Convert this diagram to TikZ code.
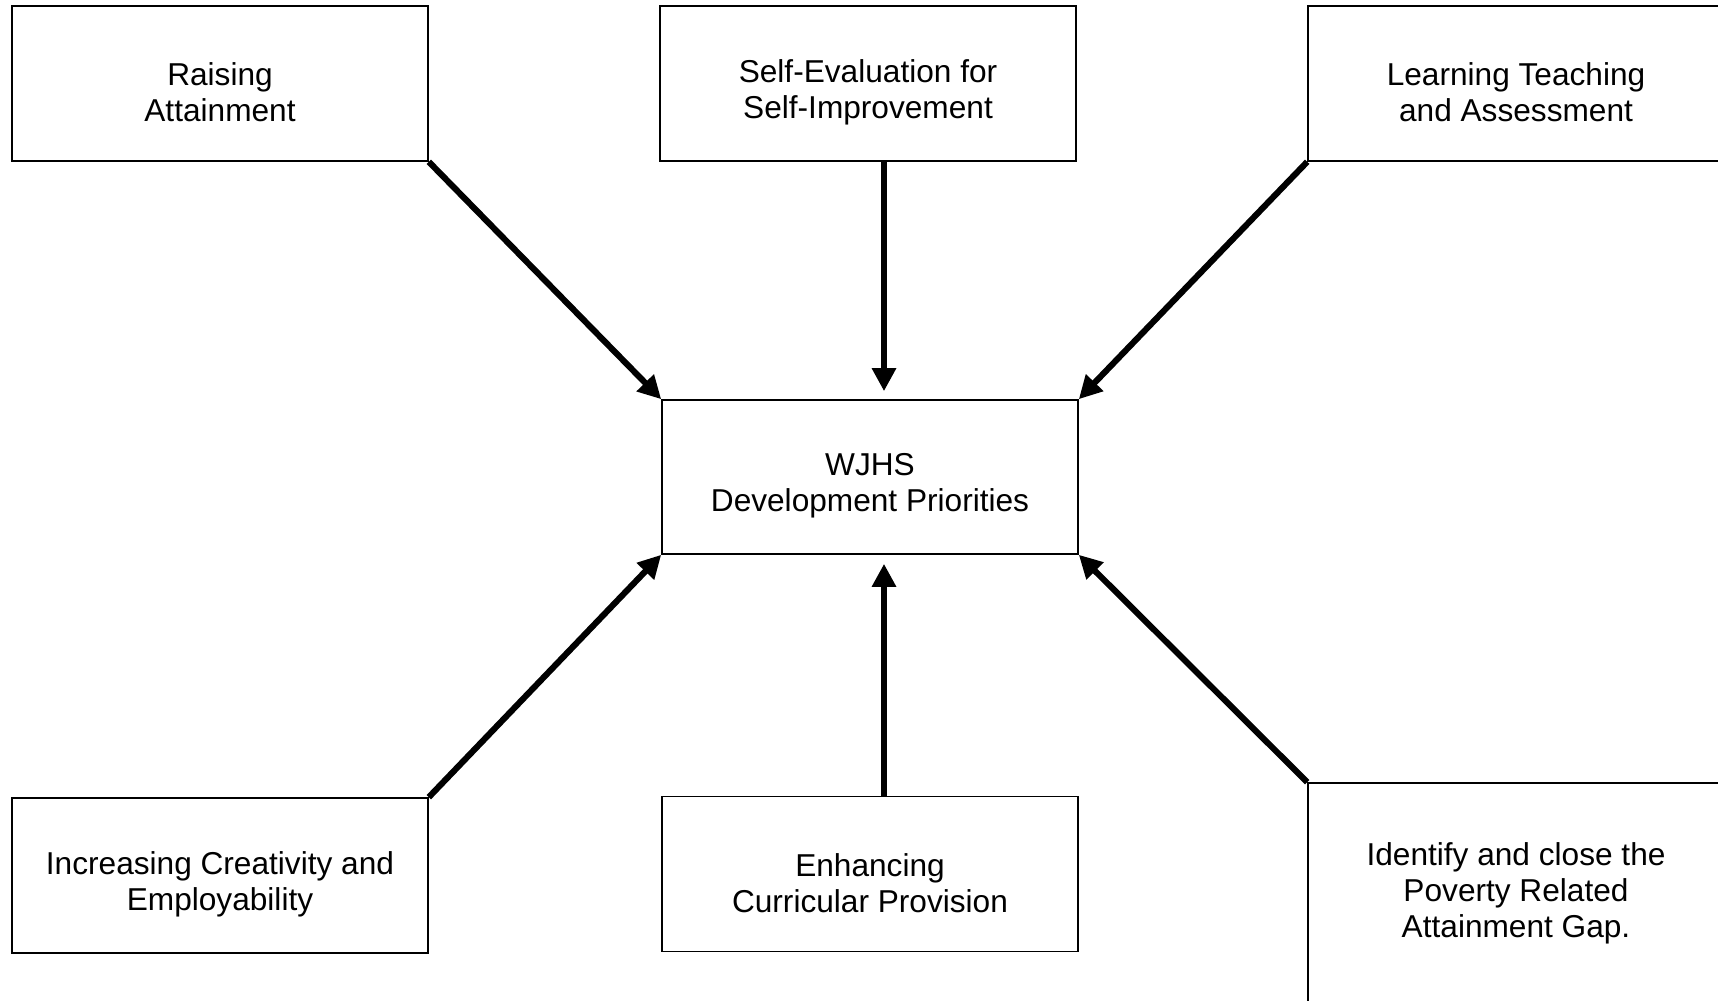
\documentclass[tikz,border=0pt]{standalone}
\usepackage{fontspec}
\setmainfont{Liberation Sans}
\usetikzlibrary{arrows.meta}
% pushes a two-line label a little below the box centre
\newcommand{\txtdrop}{\rule{0pt}{23pt}}

\begin{document}
\begin{tikzpicture}[
  box/.style={draw,line width=0.9pt,minimum width=8.32cm,minimum height=3.1cm,align=center,inner sep=0pt,font=\fontsize{18}{20.5}\selectfont},
  feed/.style={line width=3.5pt,-{Triangle[length=0.46cm,width=0.46cm]}}]
\clip (0,0) rectangle (34.36,20);
% outer priorities
\node[box] (raise) at (4.40,18.33){\txtdrop Raising\\Attainment};
\node[box] (selfev) at (17.36,18.33){\txtdrop Self-Evaluation for\\Self-Improvement};
\node[box] (learn) at (30.32,18.33){\txtdrop Learning Teaching\\and Assessment};
\node[box] (create) at (4.40,2.49){\txtdrop Increasing Creativity and\\Employability};
\node[box] (curric) at (17.40,2.52){\txtdrop Enhancing\\Curricular Provision};
\node[box,minimum height=4.4cm] (gap) at (30.32,2.14){Identify and close the\\Poverty Related\\Attainment Gap.};
% centre
\node[box,minimum height=3.08cm] (wjhs) at (17.40,10.46){\txtdrop WJHS\\Development Priorities};
% arrows into the centre
\draw[feed] (raise.south east) -- (wjhs.north west);
\draw[feed,shorten >=0.16cm] ([xshift=0.28cm]wjhs.north |- selfev.south) -- ([xshift=0.28cm]wjhs.north);
\draw[feed] (learn.south west) -- (wjhs.north east);
\draw[feed] (create.north east) -- (wjhs.south west);
\draw[feed,shorten >=0.18cm] ([xshift=0.28cm]wjhs.south |- curric.north) -- ([xshift=0.28cm]wjhs.south);
\draw[feed] (gap.north west) -- (wjhs.south east);
\end{tikzpicture}
\end{document}
